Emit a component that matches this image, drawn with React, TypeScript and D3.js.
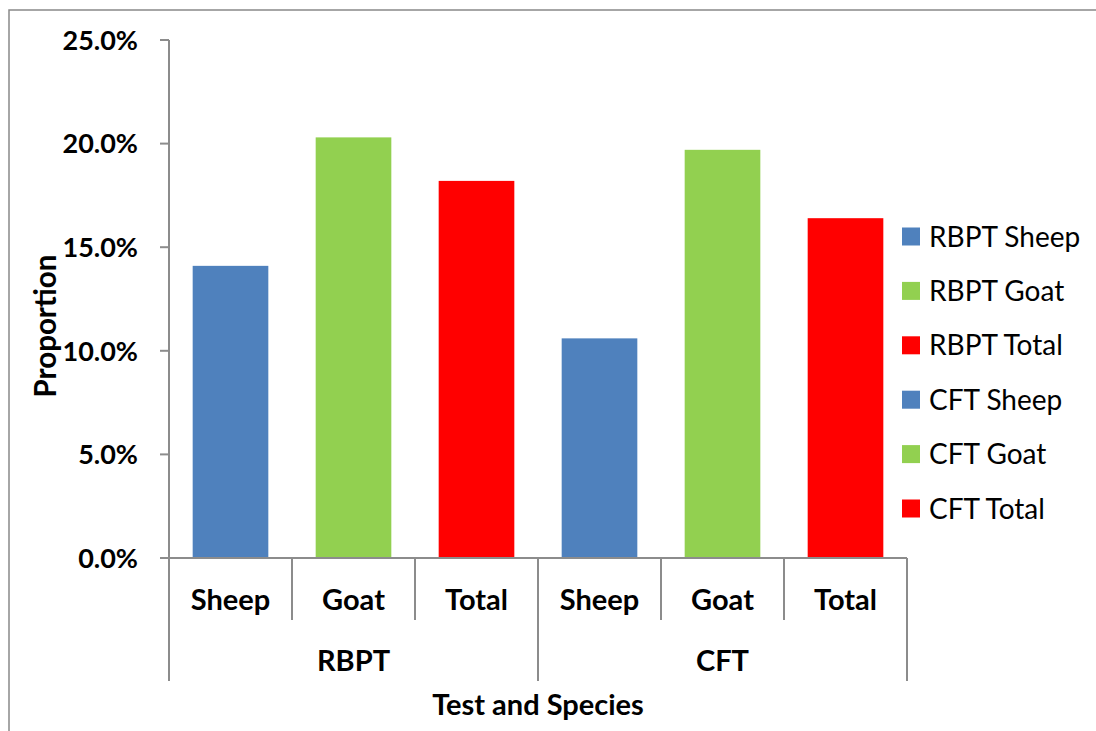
import React from "react";
import * as d3 from "d3";

const groups = ["RBPT", "CFT"];
const species = ["Sheep", "Goat", "Total"];
const values = [14.1, 20.3, 18.2, 10.6, 19.7, 16.4];
const colors = ["#4F81BD", "#92D050", "#FF0000"];
const yTicks = [0, 5, 10, 15, 20, 25];
const legendLabels = ["RBPT Sheep", "RBPT Goat", "RBPT Total", "CFT Sheep", "CFT Goat", "CFT Total"];

const W = 1096;
const H = 731;
const FONT = "Lato, 'Open Sans', sans-serif";
const AXIS = "#8C8C8C";

export default function App() {
  const left = 169;
  const right = 907;
  const top = 40;
  const bottom = 558;

  const cats = groups.flatMap((g) => species.map((s) => `${g} ${s}`));
  const x = d3.scaleBand<string>().domain(cats).range([left, right]).paddingInner(0.385).paddingOuter(0.1925);
  const xCell = d3.scaleBand<string>().domain(cats).range([left, right]);
  const y = d3.scaleLinear().domain([0, 25]).range([bottom, top]);
  const groupW = (right - left) / groups.length;

  return (
    <svg width={W} height={H} style={{ position: "absolute", left: 0, top: 0, background: "#fff" }} fontFamily={FONT}>
      <rect x={9} y={10} width={1100} height={740} fill="none" stroke="#898989" strokeWidth={1.5} />

      {/* bars */}
      {cats.map((c, i) => (
        <rect key={c} x={x(c)} y={y(values[i])} width={x.bandwidth()} height={y(0) - y(values[i])} fill={colors[i % 3]} />
      ))}

      {/* y axis */}
      <line x1={left} x2={left} y1={top} y2={bottom} stroke={AXIS} strokeWidth={2} />
      {yTicks.map((t) => (
        <g key={t}>
          <line x1={left - 9} x2={left} y1={y(t)} y2={y(t)} stroke={AXIS} strokeWidth={2} />
          <text x={left - 31} y={y(t)} dy="0.36em" textAnchor="end" fontSize={27} fontWeight={700} fill="#000">
            {d3.format(".1f")(t) + "%"}
          </text>
        </g>
      ))}
      <text transform={`translate(56,${326}) rotate(-90)`} textAnchor="middle" fontSize={29.5} fontWeight={700}>
        Proportion
      </text>

      {/* x axis with two-level categories */}
      <line x1={left} x2={right} y1={bottom} y2={bottom} stroke={AXIS} strokeWidth={2} />
      {cats.map((c, i) => {
        const x0 = xCell(c)!;
        const isGroupEdge = i % 3 === 0;
        return (
          <g key={c}>
            <line x1={x0} x2={x0} y1={bottom} y2={isGroupEdge ? 681 : 620} stroke={AXIS} strokeWidth={2} />
            <text x={x0 + xCell.bandwidth() / 2} y={600} dy="0.36em" textAnchor="middle" fontSize={29} fontWeight={700}>
              {species[i % 3]}
            </text>
          </g>
        );
      })}
      <line x1={right} x2={right} y1={bottom} y2={681} stroke={AXIS} strokeWidth={2} />
      {groups.map((g, gi) => (
        <text key={g} x={left + groupW * (gi + 0.5)} y={661} dy="0.36em" textAnchor="middle" fontSize={29} fontWeight={700}>
          {g}
        </text>
      ))}
      <text x={538} y={705} dy="0.36em" textAnchor="middle" fontSize={29} fontWeight={700}>
        Test and Species
      </text>

      {/* legend */}
      {legendLabels.map((l, i) => {
        const cy = 236.5 + i * 54.4;
        return (
          <g key={l}>
            <rect x={902} y={cy - 9} width={18} height={18} fill={colors[i % 3]} />
            <text x={929} y={cy} dy="0.36em" fontSize={28} fill="#000">
              {l}
            </text>
          </g>
        );
      })}
    </svg>
  );
}
